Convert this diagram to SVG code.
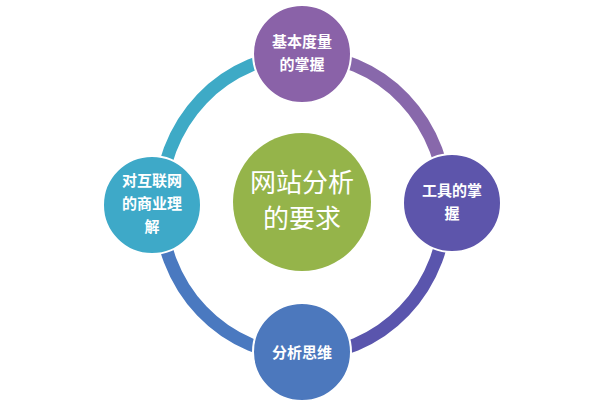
<svg xmlns="http://www.w3.org/2000/svg" width="600" height="402" viewBox="0 0 600 402">
<style>
.ring{fill:none;stroke-width:13}
.n{stroke:#fff;stroke-width:2}
.t{fill:#fff;font-family:"Noto Sans CJK SC","Noto Sans",sans-serif;font-size:15px;font-weight:bold;text-anchor:middle}
.c{fill:#fff;font-family:"Noto Sans CJK SC","Noto Sans",sans-serif;font-size:26px;text-anchor:middle}
</style>
<rect width="600" height="402" fill="#fff"/>
<g id="connectors">
<path class="ring" stroke="#8868ab" d="M303 55 A143 150 0 0 1 446 205"/>
<path class="ring" stroke="#5a55ad" d="M446 205 A143 150 0 0 1 303 355"/>
<path class="ring" stroke="#4a79c0" d="M303 355 A143 150 0 0 1 160 205"/>
<path class="ring" stroke="#3eaac6" d="M160 205 A143 150 0 0 1 303 55"/>
</g>
<g id="center"><circle cx="302" cy="202" r="69" fill="#95b44a"/>
<text class="c" x="302" y="192">网站分析</text><text class="c" x="302" y="228">的要求</text></g>
<g id="top"><circle class="n" cx="302" cy="54" r="49" fill="#8a62a8"/>
<text class="t" x="302" y="47">基本度量</text><text class="t" x="302" y="70">的掌握</text></g>
<g id="right"><circle class="n" cx="452" cy="203" r="49" fill="#5d55ab"/>
<text class="t" x="452" y="196">工具的掌</text><text class="t" x="452" y="219">握</text></g>
<g id="bottom"><circle class="n" cx="302" cy="352" r="49" fill="#4c78bd"/>
<text class="t" x="302" y="358">分析思维</text></g>
<g id="left"><circle class="n" cx="152" cy="205" r="49" fill="#3ea9c8"/>
<text class="t" x="152" y="186">对互联网</text><text class="t" x="152" y="209">的商业理</text><text class="t" x="152" y="232">解</text></g>
</svg>
